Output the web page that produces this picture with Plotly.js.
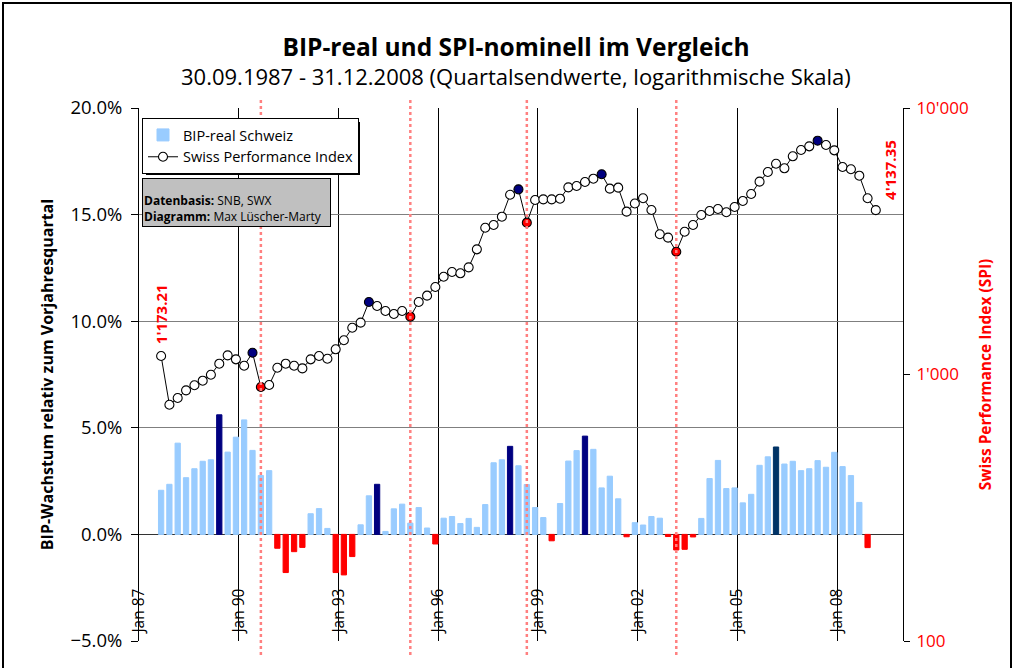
<!DOCTYPE html>
<html>
<head>
<meta charset="utf-8">
<script src="https://cdn.plot.ly/plotly-3.0.1.min.js"></script>
<style>html,body{margin:0;padding:0;background:#fff;}#chart{width:1016px;height:668px;}</style>
</head>
<body>
<div id="chart"></div>
<script>
// Quarter-end months (plotted at month position like the original date axis)
const quarters = [
  '1987-09','1987-12',
  '1988-03','1988-06','1988-09','1988-12',
  '1989-03','1989-06','1989-09','1989-12',
  '1990-03','1990-06','1990-09','1990-12',
  '1991-03','1991-06','1991-09','1991-12',
  '1992-03','1992-06','1992-09','1992-12',
  '1993-03','1993-06','1993-09','1993-12',
  '1994-03','1994-06','1994-09','1994-12',
  '1995-03','1995-06','1995-09','1995-12',
  '1996-03','1996-06','1996-09','1996-12',
  '1997-03','1997-06','1997-09','1997-12',
  '1998-03','1998-06','1998-09','1998-12',
  '1999-03','1999-06','1999-09','1999-12',
  '2000-03','2000-06','2000-09','2000-12',
  '2001-03','2001-06','2001-09','2001-12',
  '2002-03','2002-06','2002-09','2002-12',
  '2003-03','2003-06','2003-09','2003-12',
  '2004-03','2004-06','2004-09','2004-12',
  '2005-03','2005-06','2005-09','2005-12',
  '2006-03','2006-06','2006-09','2006-12',
  '2007-03','2007-06','2007-09','2007-12',
  '2008-03','2008-06','2008-09','2008-12',
  '2009-03'
];

// BIP-real growth vs. same quarter previous year (%)
const bipValues = [
  2.07, 2.35,
  4.28, 2.66, 3.08, 3.43,
  3.50, 5.61, 3.86, 4.56,
  5.37, 3.94, 2.76, 2.99,
  -0.65, -1.79, -0.81, -0.61,
  0.97, 1.21, 0.28, -1.79,
  -1.90, -1.04, 0.45, 1.81,
  2.35, 0.14, 1.20, 1.42,
  0.53, 1.26, 0.30, -0.45,
  0.76, 0.84, 0.51, 0.75,
  0.33, 1.40, 3.36, 3.50,
  4.13, 3.22, 2.34, 1.26,
  0.79, -0.30, 1.45, 3.44,
  3.93, 4.61, 3.99, 2.18,
  2.73, 1.67, -0.11, 0.55,
  0.44, 0.84, 0.76, -0.10,
  -0.73, -0.70, -0.12, 0.75,
  2.62, 3.47, 2.15, 2.18,
  1.48, 1.88, 3.24, 3.64,
  4.10, 3.30, 3.43, 2.99,
  3.08, 3.46, 3.15, 3.85,
  3.18, 2.76, 1.50, -0.62
];

// Swiss Performance Index, quarter-end values
const spiValues = [
  1173.21, 770,
  816, 872, 911, 948,
  998, 1098, 1180, 1140,
  1079, 1207, 898, 913,
  1060, 1098, 1079, 1054,
  1140, 1173, 1146, 1243,
  1344, 1498, 1565, 1871,
  1807, 1731, 1687, 1731,
  1648, 1871, 1976, 2130,
  2328, 2424, 2397, 2524,
  2949, 3555, 3639, 3910,
  4727, 4952, 3713, 4516,
  4542, 4542, 4568, 5038,
  5096, 5277, 5430, 5640,
  4981, 5024, 4083, 4380,
  4583, 4143, 3359, 3262,
  2889, 3434, 3639, 3967,
  4107, 4178, 4061, 4251,
  4477, 4757, 5292, 5751,
  6180, 5938, 6587, 6957,
  7181, 7540, 7264, 6937,
  6006, 5888, 5572, 4583,
  4137.35
];

// Highlighted quarters
const spiPeaks   = ['1990-06','1993-12','1998-06','2000-12','2007-06'];
const spiTroughs = ['1990-09','1995-03','1998-09','2003-03'];
const bipNavy    = ['1989-06','1994-03','1998-03','2000-06'];
const bipDark    = ['2006-03'];

const titleText    = 'BIP-real und SPI-nominell im Vergleich';
const subtitleText = '30.09.1987 - 31.12.2008 (Quartalsendwerte, logarithmische Skala)';
const firstLabel = "1'173.21";
const lastLabel  = "4'137.35";

const bipX = quarters.slice(0, bipValues.length);
const bipColors = bipX.map((q, i) =>
  bipValues[i] < 0 ? '#ff0000' :
  bipNavy.includes(q) ? '#000080' :
  bipDark.includes(q) ? '#003366' : '#99ccff');
const spiColors = quarters.map(q =>
  spiPeaks.includes(q) ? '#000080' :
  spiTroughs.includes(q) ? '#ff0000' : '#ffffff');

const traces = [
  {
    type: 'bar', name: 'BIP-real Schweiz',
    x: bipX, y: bipValues, xaxis: 'x', yaxis: 'y',
    width: 5.0e9,
    marker: {color: bipColors, line: {color: bipColors, width: 1}},
    hoverinfo: 'x+y'
  },
  {
    type: 'scatter', mode: 'lines+markers', name: 'Swiss Performance Index',
    x: quarters, y: spiValues, xaxis: 'x', yaxis: 'y2',
    line: {color: '#000000', width: 1},
    marker: {size: 9, color: spiColors, line: {color: '#000000', width: 1.1}}
  }
];

const P = (px) => (px - 139) / 764;           // pixel x -> paper x
const Q = (py) => (641 - py) / 533;           // pixel y -> paper y

const shapes = spiTroughs.map(q => ({
  type: 'line', xref: 'x', yref: 'paper', x0: q, x1: q, y0: Q(655), y1: Q(99),
  line: {color: '#ff8080', width: 2.5, dash: 'dot'}, layer: 'above'
}));
shapes.push({type: 'rect', xref: 'paper', yref: 'paper',
  x0: P(146), x1: P(360), y0: Q(175), y1: Q(122),
  fillcolor: '#000', line: {width: 0}, layer: 'above'});
shapes.push({type: 'rect', xref: 'paper', yref: 'paper',
  x0: P(3), x1: P(1011), y0: Q(700), y1: Q(3),
  fillcolor: 'rgba(0,0,0,0)', line: {color: '#000', width: 2}, layer: 'below'});

const layout = {
  width: 1016, height: 668,
  margin: {l: 139, r: 113, t: 108, b: 27},
  paper_bgcolor: '#ffffff', plot_bgcolor: '#ffffff',
  separators: ".'",
  font: {family: 'Open Sans, sans-serif', color: '#000'},
  showlegend: true,
  bargap: 0,
  title: {
    text: '<b>' + titleText + '</b>',
    font: {size: 24.5, color: '#000'},
    x: P(516), xref: 'paper', xanchor: 'center',
    y: 1 - 47 / 668, yref: 'container', yanchor: 'middle'
  },
  xaxis: {
    type: 'date', range: ['1987-01-01', '2009-12-25'],
    tick0: '1987-01-01', dtick: 'M36', tickformat: '%b %y',
    tickangle: -90, ticklabelposition: 'inside', ticklabeloverflow: 'allow',
    ticks: '', showgrid: true, gridcolor: '#000000', gridwidth: 1,
    showline: false, zeroline: false,
    tickfont: {size: 15.5, color: '#000'}
  },
  yaxis: {
    range: [-5, 20], dtick: 5, tick0: 0, tickformat: '.1f', ticksuffix: '%',
    showgrid: true, gridcolor: '#7f7f7f', gridwidth: 1.3,
    zeroline: true, zerolinecolor: '#333', zerolinewidth: 1.3,
    showline: true, linecolor: '#000', linewidth: 1,
    ticks: 'outside', ticklen: 7, tickcolor: '#000', ticklabelstandoff: 5,
    tickfont: {size: 18.5, color: '#000'},
    title: {text: '<b>BIP-Wachstum relativ zum Vorjahresquartal</b>', font: {size: 16, color: '#000'}, standoff: 12}
  },
  yaxis2: {
    type: 'log', range: [2, 4], dtick: 1, tickformat: ',.0f',
    overlaying: 'y', side: 'right',
    showgrid: false, zeroline: false,
    showline: true, linecolor: '#000', linewidth: 1,
    ticks: 'outside', ticklen: 6, tickcolor: '#000', ticklabelstandoff: 3,
    tickfont: {size: 17, color: '#ff0000'},
    title: {text: '<b>Swiss Performance Index (SPI)</b>', font: {size: 15.5, color: '#ff0000'}, standoff: 12}
  },
  legend: {
    x: P(142), y: Q(118), xanchor: 'left', yanchor: 'top',
    bgcolor: '#ffffff', bordercolor: '#000', borderwidth: 1,
    font: {size: 14.5, color: '#000'}, tracegroupgap: 0, itemwidth: 30
  },
  annotations: [
    {xref: 'paper', yref: 'paper', x: P(516), y: Q(76), xanchor: 'center', yanchor: 'middle',
     showarrow: false, text: subtitleText, font: {size: 22, color: '#000'}},
    {xref: 'paper', yref: 'paper', x: P(142), y: Q(178), xanchor: 'left', yanchor: 'top',
     showarrow: false, align: 'left', valign: 'bottom',
     text: '<b>Datenbasis:</b> SNB, SWX<br><b>Diagramm:</b> Max Lüscher-Marty',
     font: {size: 12, color: '#000'}, bgcolor: '#c0c0c0', bordercolor: '#000', borderwidth: 1,
     width: 185, height: 45, borderpad: 1},
    {xref: 'x', yref: 'y2', x: quarters[0], y: Math.log10(spiValues[0]),
     showarrow: false, textangle: -90, yanchor: 'bottom', yshift: 10,
     text: '<b>' + firstLabel + '</b>', font: {size: 15, color: '#ff0000'}},
    {xref: 'x', yref: 'y2', x: quarters[quarters.length - 1], y: Math.log10(spiValues[spiValues.length - 1]),
     showarrow: false, textangle: -90, yanchor: 'bottom', yshift: 8, xshift: 14,
     text: '<b>' + lastLabel + '</b>', font: {size: 15, color: '#ff0000'}}
  ],
  shapes: shapes
};

Plotly.newPlot('chart', traces, layout, {displayModeBar: false, staticPlot: true});
</script>
</body>
</html>
